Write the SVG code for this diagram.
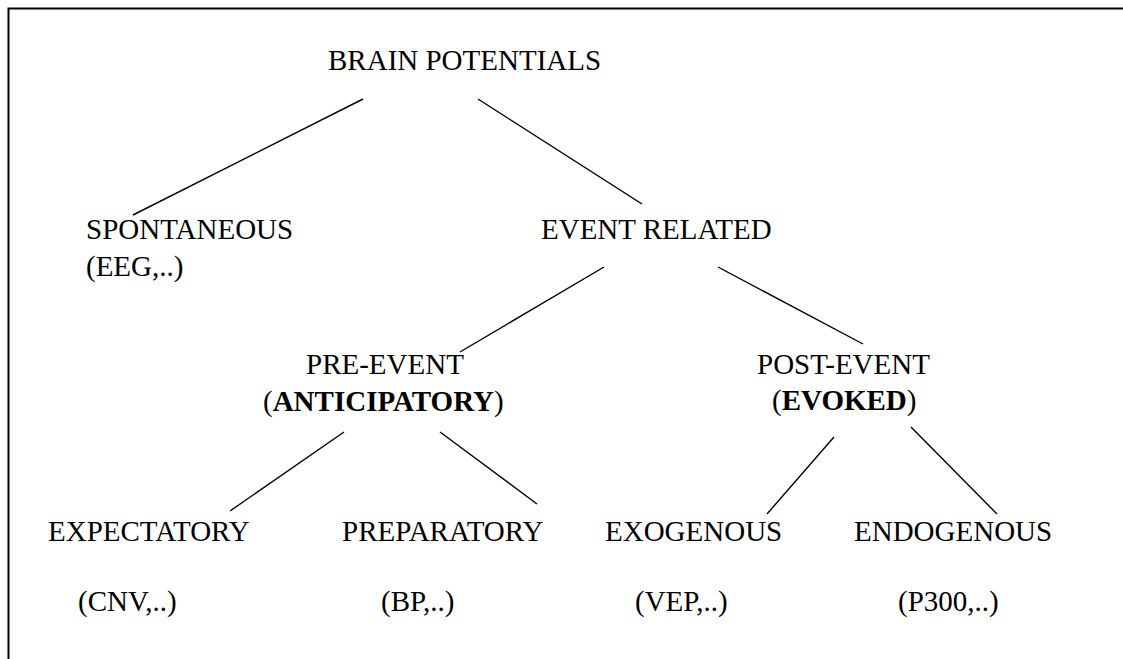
<svg xmlns="http://www.w3.org/2000/svg" width="1123" height="659" viewBox="0 0 1123 659">
<style>
text{font-family:"Liberation Serif","Times New Roman",serif;font-size:29px;fill:#000}
.b{font-weight:bold}
.c{stroke:#000;stroke-width:1.4;fill:none}
.frame{stroke:#000;stroke-width:2;fill:none}
</style>
<rect width="1123" height="659" fill="#fff"/>
<path class="frame" d="M8.5 659 V8.5 H1123"/>
<g id="connectors">
<line class="c" x1="363" y1="99" x2="133" y2="215"/>
<line class="c" x1="478" y1="99" x2="642" y2="204"/>
<line class="c" x1="604" y1="267" x2="460" y2="352"/>
<line class="c" x1="718" y1="267" x2="863" y2="344"/>
<line class="c" x1="344" y1="432" x2="230" y2="511"/>
<line class="c" x1="440" y1="432" x2="537" y2="504"/>
<line class="c" x1="834" y1="437" x2="767" y2="514"/>
<line class="c" x1="911" y1="427" x2="997" y2="514"/>
</g>
<g id="brain-potentials"><text x="328" y="70">BRAIN POTENTIALS</text></g>
<g id="spontaneous"><text x="86" y="239">SPONTANEOUS</text><text x="86" y="276">(EEG,..)</text></g>
<g id="event-related"><text x="541" y="239">EVENT RELATED</text></g>
<g id="pre-event"><text x="306" y="374">PRE-EVENT</text><text x="263" y="411">(<tspan class="b">ANTICIPATORY</tspan>)</text></g>
<g id="post-event"><text x="757" y="374">POST-EVENT</text><text x="772" y="410">(<tspan class="b">EVOKED</tspan>)</text></g>
<g id="expectatory"><text x="48" y="541">EXPECTATORY</text><text x="78" y="611">(CNV,..)</text></g>
<g id="preparatory"><text x="342" y="541">PREPARATORY</text><text x="381" y="611">(BP,..)</text></g>
<g id="exogenous"><text x="605" y="541">EXOGENOUS</text><text x="635" y="611">(VEP,..)</text></g>
<g id="endogenous"><text x="854" y="541">ENDOGENOUS</text><text x="898" y="611">(P300,..)</text></g>
</svg>
